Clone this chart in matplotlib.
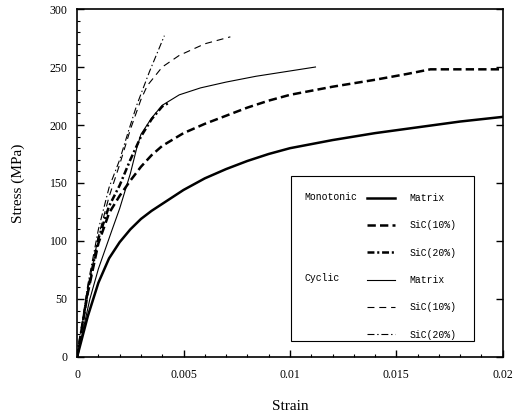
import matplotlib
matplotlib.use("Agg")
import matplotlib.pyplot as plt
from matplotlib.patches import Rectangle
from matplotlib.ticker import MultipleLocator, FixedLocator

plt.rcParams["lines.scale_dashes"] = False

# Monotonic tests
mono_matrix_strain = [0, 0.0005, 0.001, 0.0015, 0.002, 0.0025, 0.003, 0.0035, 0.004, 0.005,
                      0.006, 0.007, 0.008, 0.009, 0.010, 0.012, 0.014, 0.016, 0.018, 0.020]
mono_matrix_stress = [0, 35, 64, 85, 99, 110, 119, 126, 132, 144,
                      154, 162, 169, 175, 180, 187, 193, 198, 203, 207]

mono_sic10_strain = [0, 0.0005, 0.001, 0.0015, 0.002, 0.0025, 0.003, 0.0035, 0.004, 0.005,
                     0.006, 0.007, 0.008, 0.009, 0.010, 0.012, 0.014, 0.0155, 0.0166, 0.020]
mono_sic10_stress = [0, 55, 98, 124, 139, 152, 164, 174, 182, 193,
                     201, 208, 215, 221, 226, 233, 239, 244, 248, 248]

mono_sic20_strain = [0, 0.0005, 0.001, 0.0015, 0.002, 0.0025, 0.003, 0.0035, 0.004, 0.0043]
mono_sic20_stress = [0, 57, 102, 130, 148, 170, 190, 205, 216, 219]

# Cyclic tests
cyc_matrix_strain = [0, 0.0006, 0.001, 0.00165, 0.002, 0.0025, 0.0028, 0.003, 0.0035, 0.004,
                     0.0048, 0.0058, 0.007, 0.0084, 0.0098, 0.0112]
cyc_matrix_stress = [0, 50, 76, 110, 128, 158, 180, 192, 206, 217,
                     226, 232, 237, 242, 246, 250]

cyc_sic10_strain = [0, 0.0005, 0.001, 0.0015, 0.002, 0.0025, 0.003, 0.0033, 0.004, 0.0048,
                    0.006, 0.0072]
cyc_sic10_stress = [0, 58, 104, 138, 166, 196, 222, 234, 250, 260,
                    270, 276]

cyc_sic20_strain = [0, 0.0005, 0.001, 0.0015, 0.002, 0.0024, 0.0028, 0.0034, 0.0041]
cyc_sic20_stress = [0, 62, 110, 146, 170, 194, 217, 246, 277]

legend_labels = ["Matrix", "SiC(10%)", "SiC(20%)", "Matrix", "SiC(10%)", "SiC(20%)"]
group_labels = ["Monotonic", "Cyclic"]

fig = plt.figure(figsize=(5.21, 4.19), dpi=100)
ax = fig.add_axes([0.148, 0.148, 0.817, 0.8305])

thick, thin = 1.8, 0.8
h1, = ax.plot(mono_matrix_strain, mono_matrix_stress, color="black", lw=thick)
h2, = ax.plot(mono_sic10_strain, mono_sic10_stress, color="black", lw=thick,
              dashes=(6, 3))
h3, = ax.plot(mono_sic20_strain, mono_sic20_stress, color="black", lw=thick,
              dashes=(5, 2, 1.5, 2))
h4, = ax.plot(cyc_matrix_strain, cyc_matrix_stress, color="black", lw=thin)
h5, = ax.plot(cyc_sic10_strain, cyc_sic10_stress, color="black", lw=thin,
              dashes=(5, 3.5))
h6, = ax.plot(cyc_sic20_strain, cyc_sic20_stress, color="black", lw=thin,
              dashes=(5, 2, 1, 2))

ax.set_xlim(0, 0.02)
ax.set_ylim(0, 300)

serif = "Liberation Serif"
ax.xaxis.set_major_locator(FixedLocator([0, 0.005, 0.01, 0.015, 0.02]))
ax.set_xticklabels(["0", "0.005", "0.01", "0.015", "0.02"], family=serif, fontsize=8.5)
ax.xaxis.set_minor_locator(MultipleLocator(0.001))
ax.yaxis.set_major_locator(MultipleLocator(50))
ax.yaxis.set_minor_locator(MultipleLocator(10))
for lab in ax.get_yticklabels():
    lab.set_family(serif)
    lab.set_fontsize(8.5)

ax.tick_params(which="major", direction="in", length=5, width=1, pad=7)
ax.tick_params(axis="x", which="major", pad=9)
ax.tick_params(which="minor", direction="in", length=2.5, width=0.8)
ax.tick_params(axis="y", which="major", right=True)
for sp in ax.spines.values():
    sp.set_linewidth(1.2)

ax.set_xlabel("Strain", family=serif, fontsize=11, labelpad=13)
ax.set_ylabel("Stress (MPa)", family=serif, fontsize=11, labelpad=18)

# Legend: framed box with group labels on the left
ax.add_patch(Rectangle((0.502, 0.046), 0.430, 0.474, transform=ax.transAxes,
                       fill=False, edgecolor="black", lw=0.8, zorder=5))
leg = ax.legend([h1, h2, h3, h4, h5, h6], legend_labels,
                loc="upper left", bbox_to_anchor=(0.672, 0.482),
                frameon=False, handlelength=2.9, handletextpad=1.5,
                labelspacing=1.78, borderaxespad=0,
                prop={"family": "Liberation Mono", "size": 7})
ax.text(0.535, 0.460, group_labels[0], transform=ax.transAxes,
        family="Liberation Mono", fontsize=7, va="center", ha="left")
ax.text(0.535, 0.227, group_labels[1], transform=ax.transAxes,
        family="Liberation Mono", fontsize=7, va="center", ha="left")

fig.savefig("out.png", dpi=100)
